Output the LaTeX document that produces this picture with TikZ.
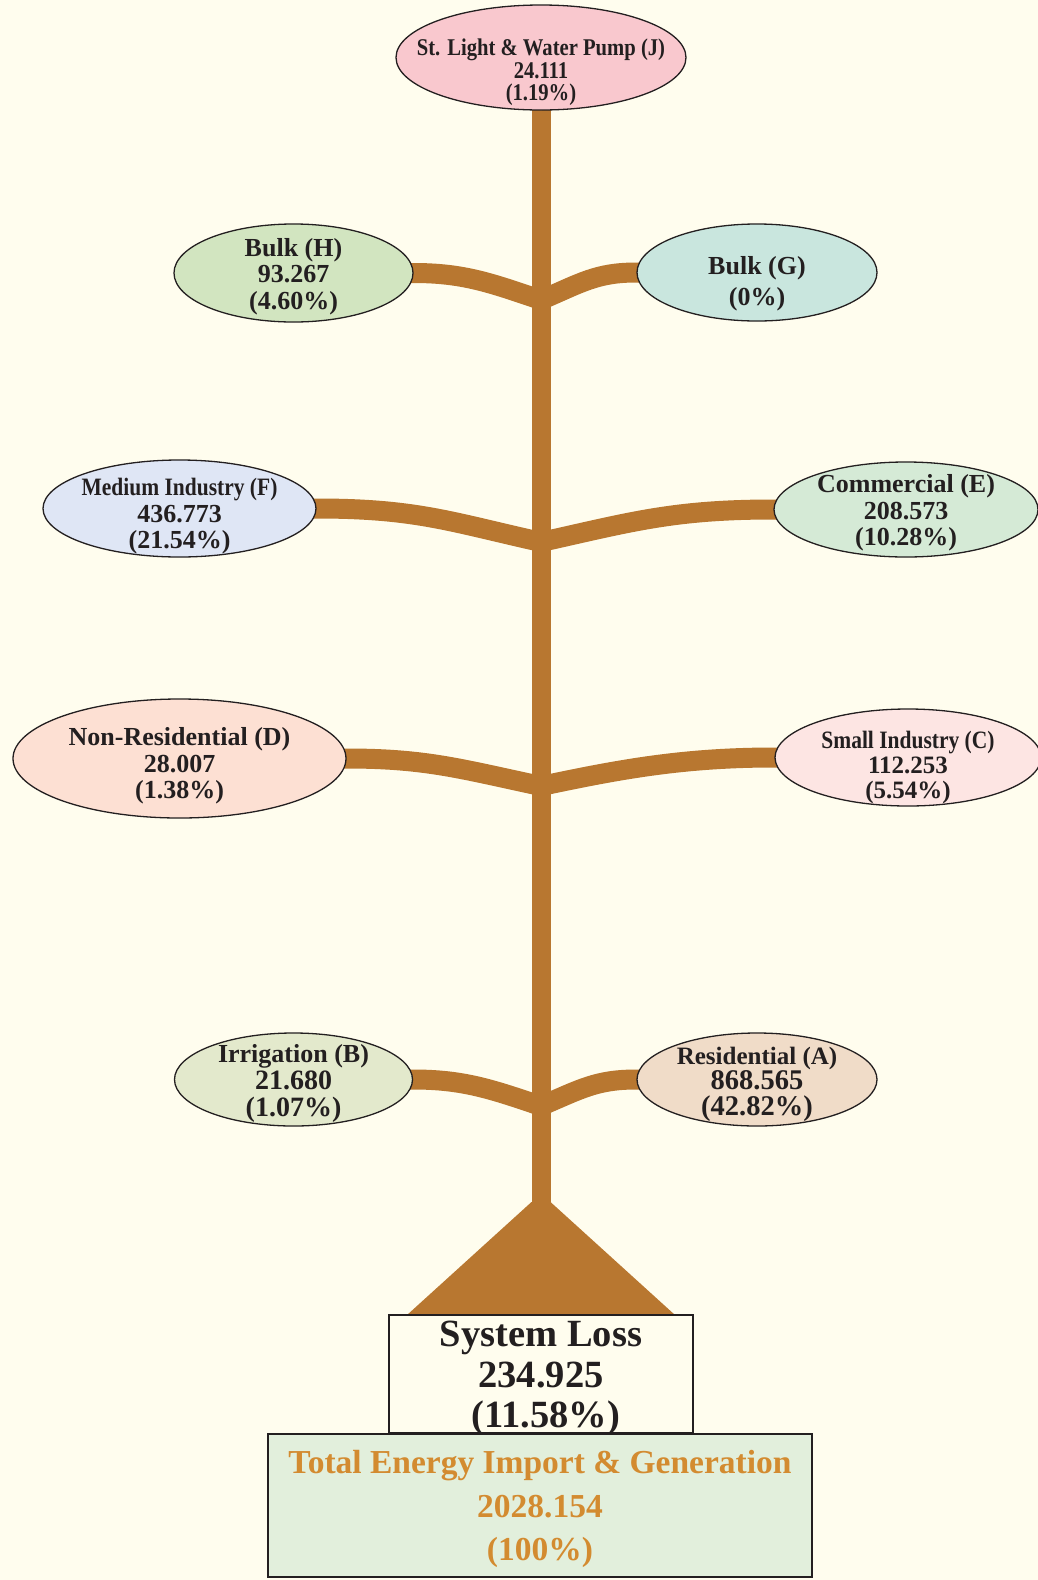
\documentclass[tikz,border=0pt]{standalone}
\usepackage{fontspec}
\setmainfont{Liberation Serif}
\newfontfamily\narrowserif{Liberation Serif}[FakeStretch=0.86]
\usetikzlibrary{shapes.geometric,backgrounds}
\definecolor{paper}{HTML}{FFFDEE}
\definecolor{bark}{HTML}{B87730}
\definecolor{ink}{HTML}{231F20}
\definecolor{gold}{HTML}{D38B30}
\definecolor{pinkJ}{HTML}{F9C8CE}
\definecolor{greenH}{HTML}{D2E5C0}
\definecolor{tealG}{HTML}{C9E6DE}
\definecolor{blueF}{HTML}{DFE6F5}
\definecolor{greenE}{HTML}{D5EAD6}
\definecolor{peachD}{HTML}{FDE0D3}
\definecolor{pinkC}{HTML}{FDE5E3}
\definecolor{oliveB}{HTML}{E3E9CC}
\definecolor{tanA}{HTML}{F0DCC8}
\definecolor{mintbox}{HTML}{E2EFDC}
\begin{document}
\begin{tikzpicture}[x=1pt,y=-1pt,
	leaf/.style={ellipse,draw=ink,line width=1.3pt,inner sep=0pt},
	limb/.style={draw=bark,line width=20pt},
	txt/.style={align=center,text=ink,font=\bfseries\fontsize{26}{26.5}\selectfont}]
		\useasboundingbox (0,0) rectangle (1038,1580);
		\node[leaf,fill=pinkJ,minimum width=290pt,minimum height=105pt] (J) at (541,57.5) {};
		\node[txt,font=\narrowserif\bfseries\fontsize{24}{22.5}\selectfont] (Jt) at (541,72.5) {St. Light \& Water Pump (J)\\24.111\\(1.19\%)};
		\node[leaf,fill=greenH,minimum width=239pt,minimum height=98pt] (H) at (293.5,273) {};
		\node[txt] (Ht) at (293.5,276.5) {Bulk (H)\\93.267\\(4.60\%)};
		\node[leaf,fill=tealG,minimum width=240pt,minimum height=97pt] (G) at (757,272.5) {};
		\node[txt,font=\bfseries\fontsize{26}{31}\selectfont] (Gt) at (757,284) {Bulk (G)\\(0\%)};
		\node[leaf,fill=blueF,minimum width=273pt,minimum height=97pt] (F) at (179.5,508.5) {};
		\node[txt] (Ft) at (179.5,516.5) {{\narrowserif\fontsize{25}{26.5}\selectfont Medium Industry (F)}\\436.773\\(21.54\%)};
		\node[leaf,fill=greenE,minimum width=264pt,minimum height=95pt] (E) at (906,509.5) {};
		\node[txt] (Et) at (906,513) {Commercial (E)\\208.573\\(10.28\%)};
		\node[leaf,fill=peachD,minimum width=333pt,minimum height=119pt] (D) at (179.5,758.5) {};
		\node[txt] (Dt) at (179.5,766) {Non-Residential (D)\\28.007\\(1.38\%)};
		\node[leaf,fill=pinkC,minimum width=266pt,minimum height=97pt] (C) at (908,757.5) {};
		\node[txt,font=\bfseries\fontsize{25}{25}\selectfont] (Ct) at (908,767) {{\narrowserif Small Industry (C)}\\112.253\\(5.54\%)};
		\node[leaf,fill=oliveB,minimum width=238pt,minimum height=93pt] (B) at (293.5,1079.5) {};
		\node[txt,font=\bfseries\fontsize{28}{27}\selectfont] (Bt) at (293.5,1083) {{\fontsize{26}{27}\selectfont Irrigation (B)}\\21.680\\(1.07\%)};
		\node[leaf,fill=tanA,minimum width=240pt,minimum height=93pt] (A) at (757,1079.5) {};
		\node[txt,font=\bfseries\fontsize{28.5}{25.5}\selectfont] (At) at (757,1084) {{\fontsize{25}{25.5}\selectfont Residential (A)}\\868.565\\(42.82\%)};
		\coordinate (k1) at (541,300);
		\coordinate (k2) at (541,542);
		\coordinate (k3) at (541,786);
		\coordinate (k4) at (541,1106);
		\coordinate (base) at (541,1204);
		\node[draw=ink,line width=1.5pt,fill=paper,minimum width=304pt,minimum height=118pt] (loss) at (541,1374) {};
		\node[txt,font=\bfseries\fontsize{38.5}{40.5}\selectfont] (losst) at (541,1378.5) {System Loss\\234.925\\\ (11.58\%)};
		\node[draw=ink,line width=1.5pt,fill=mintbox,minimum width=544pt,minimum height=143pt] (total) at (540,1505.5) {};
		\node[txt,text=gold,font=\bfseries\fontsize{33.5}{43.5}\selectfont] (totalt) at (540,1509) {Total Energy Import \& Generation\\2028.154\\(100\%)};
		\begin{scope}[on background layer]
		\fill[paper] (0,0) rectangle (1038,1580);
		\draw[limb] (H.center) -- (H.east) .. controls +(50,0) and +(-50,-17) .. (k1);
		\draw[limb] (G.center) -- (G.west) .. controls +(-40,0) and +(40,-17) .. (k1);
		\draw[limb] (F.center) -- (F.east) .. controls +(100,0) and +(-90,-20) .. (k2);
		\draw[limb] (E.center) -- (E.west) .. controls +(-100,0) and +(90,-20) .. (k2);
		\draw[limb] (D.center) -- (D.east) .. controls +(80,0) and +(-80,-17) .. (k3);
		\draw[limb] (C.center) -- (C.west) .. controls +(-90,0) and +(80,-17) .. (k3);
		\draw[limb] (B.center) -- (B.east) .. controls +(50,0) and +(-50,-17) .. (k4);
		\draw[limb] (A.center) -- (A.west) .. controls +(-40,0) and +(40,-17) .. (k4);
		\draw[bark,line width=19pt] (J.center) -- (base);
		\fill[bark] (531.5,1202) -- (550.5,1202) -- (675,1315) -- (407,1315) -- cycle;
		\end{scope}
	\end{tikzpicture}
\end{document}
